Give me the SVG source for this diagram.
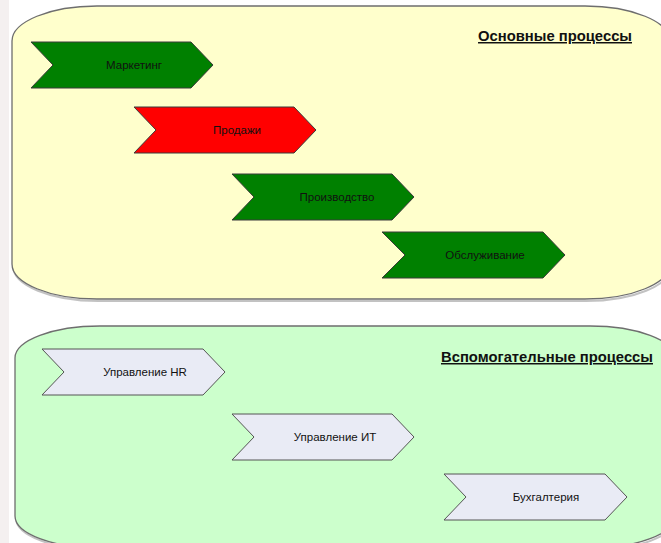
<svg xmlns="http://www.w3.org/2000/svg" width="661" height="543" viewBox="0 0 661 543">
<defs>
<style>
.cont{stroke:#6e6e6e;stroke-width:1.3}
.shadow{fill:none;stroke:#9a9a9a;stroke-width:2;opacity:0.6}
.chev{stroke:#3a3a3a;stroke-width:1}
.green{fill:#008000}
.red{fill:#ff0000}
.light{fill:#e9ebf5;stroke:#555}
.lbl{font-family:"Liberation Sans",Arial,sans-serif;font-size:11.5px;fill:#111;text-anchor:middle}
.title{font-family:"Liberation Sans",Arial,sans-serif;font-size:14.8px;font-weight:bold;fill:#111;text-anchor:end;text-decoration:underline}
</style>
</defs>
<rect x="0" y="0" width="661" height="543" fill="#ffffff"/>
<rect x="0" y="0" width="9" height="543" fill="#efe9ea" opacity="0.7"/>

<g id="main-container">
<rect class="shadow" x="13" y="8" width="658" height="293" rx="85" ry="35"/>
<rect class="cont" x="12" y="6" width="658" height="293" rx="85" ry="35" fill="#ffffcc"/>
<text class="title" x="632" y="41">Основные процессы</text>
</g>

<g id="support-container">
<rect class="shadow" x="16" y="328" width="660" height="222" rx="85" ry="32"/>
<rect class="cont" x="15" y="326" width="660" height="222" rx="85" ry="32" fill="#ccffcc"/>
<text class="title" x="653" y="362">Вспомогательные процессы</text>
</g>

<g id="connectors"></g>

<g id="marketing">
<polygon class="chev green" points="31,42 191,42 213,65 191,88 31,88 53,65"/>
<text class="lbl" x="134" y="69">Маркетинг</text>
</g>
<g id="sales">
<polygon class="chev red" points="134,107 294,107 316,130 294,153 134,153 156,130"/>
<text class="lbl" x="237" y="134">Продажи</text>
</g>
<g id="production">
<polygon class="chev green" points="232,174 392,174 414,197 392,220 232,220 254,197"/>
<text class="lbl" x="337" y="201">Производство</text>
</g>
<g id="service">
<polygon class="chev green" points="382,232 543,232 565,255 543,278 382,278 405,255"/>
<text class="lbl" x="485" y="259">Обслуживание</text>
</g>

<g id="hr">
<polygon class="chev light" points="42,349 203,349 225,372 203,395 42,395 64,372"/>
<text class="lbl" x="145" y="376">Управление HR</text>
</g>
<g id="it">
<polygon class="chev light" points="232,414 392,414 414,437 392,460 232,460 254,437"/>
<text class="lbl" x="335" y="441">Управление ИТ</text>
</g>
<g id="accounting">
<polygon class="chev light" points="444,474 605,474 627,497 605,520 444,520 466,497"/>
<text class="lbl" x="546" y="501">Бухгалтерия</text>
</g>
</svg>
